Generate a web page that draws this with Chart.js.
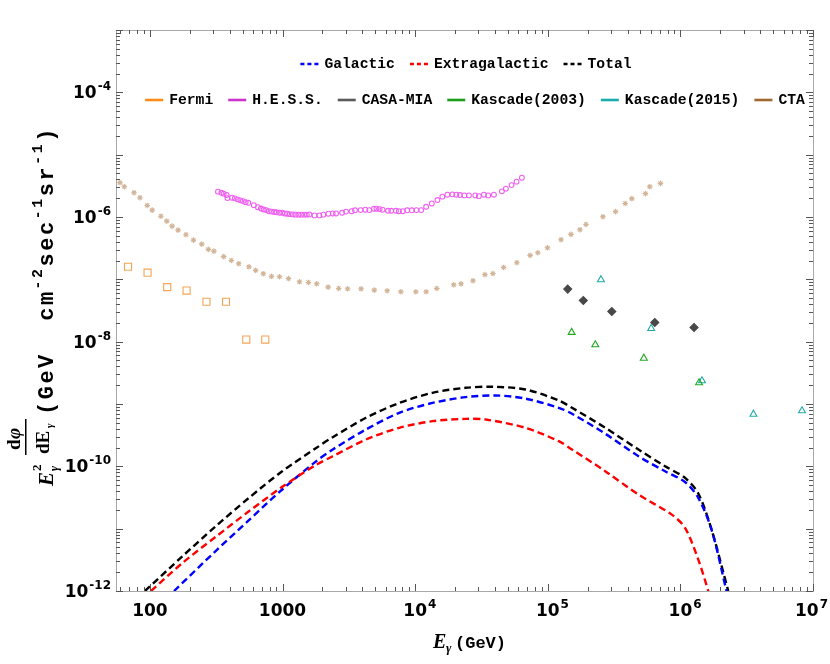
<!DOCTYPE html>
<html>
<head>
<meta charset="utf-8">
<script src="https://cdn.jsdelivr.net/npm/chart.js@4.4.1/dist/chart.umd.min.js"></script>
<style>
  html, body { margin: 0; padding: 0; background: #fff; }
  #wrap { width: 830px; height: 664px; }
</style>
</head>
<body>
<div id="wrap"><canvas id="fluxChart" width="830" height="664"></canvas></div>
<script>
// model curves (GeV, GeV cm^-2 s^-1 sr^-1)
const galacticE = [152, 313, 558, 995, 1770, 2390, 4256, 7586, 13490, 24040, 40460, 67920, 121000, 152400, 271600, 483100, 767100, 1084000, 1365000, 1718000, 2228000];
const galacticFlux = [1.0e-12, 4.37e-12, 1.37e-11, 4.25e-11, 1.18e-10, 1.86e-10, 3.90e-10, 7.23e-10, 1.04e-9, 1.29e-9, 1.37e-9, 1.22e-9, 8.69e-10, 6.97e-10, 3.33e-10, 1.45e-10, 8.34e-11, 5.60e-11, 3.12e-11, 9.68e-12, 1.0e-12];

const extraE = [102, 176, 313, 558, 995, 1770, 2390, 4256, 7586, 13490, 24040, 34040, 67920, 121000, 152400, 271600, 483100, 860700, 1084000, 1365000, 1625000];
const extraFlux = [1.0e-12, 2.82e-12, 7.38e-12, 1.90e-11, 4.69e-11, 1.04e-10, 1.45e-10, 2.69e-10, 4.15e-10, 5.30e-10, 5.78e-10, 5.64e-10, 4.15e-10, 2.53e-10, 1.86e-10, 8.34e-11, 3.52e-11, 1.68e-11, 1.03e-11, 3.19e-12, 1.0e-12];

const totalE = [91.7, 176, 313, 558, 995, 1770, 2390, 4256, 7586, 13490, 24040, 38110, 67920, 121000, 152400, 271600, 483100, 767100, 1084000, 1365000, 1718000, 2296000];
const totalFlux = [1.0e-12, 3.61e-12, 1.09e-11, 3.12e-11, 8.34e-11, 1.93e-10, 2.93e-10, 6.01e-10, 1.04e-9, 1.51e-9, 1.82e-9, 1.89e-9, 1.71e-9, 1.14e-9, 8.69e-10, 4.15e-10, 1.86e-10, 1.00e-10, 6.53e-11, 3.66e-11, 9.68e-12, 1.0e-12];

// measurements / sensitivities
const fermiE = [68.4, 96, 135, 189, 267, 375, 533, 741];
const fermiFlux = [1.59e-7, 1.28e-7, 7.5e-8, 6.6e-8, 4.37e-8, 4.37e-8, 1.08e-8, 1.08e-8];

const hessE = [326, 346, 360, 379, 384, 416, 436, 459, 481, 503, 527, 552, 608, 652, 687, 719, 754, 789, 826, 866, 901, 949, 995, 1040, 1084, 1135, 1195, 1253, 1319, 1382, 1456, 1524, 1596, 1741, 1898, 2033, 2217, 2390, 2533, 2812, 3013, 3319, 3521, 3880, 4209, 4510, 4890, 5110, 5395, 5675, 6237, 6603, 7161, 7540, 8085, 8710, 9440, 10230, 11090, 12100, 13350, 14720, 16040, 17500, 19070, 20450, 21790, 23480, 25450, 28400, 30260, 33000, 35560, 39260, 45080, 48310, 53330, 58170, 63800];
const hessFlux = [2.55e-6, 2.45e-6, 2.37e-6, 2.25e-6, 2.01e-6, 2.04e-6, 1.99e-6, 1.92e-6, 1.85e-6, 1.80e-6, 1.73e-6, 1.69e-6, 1.55e-6, 1.44e-6, 1.37e-6, 1.32e-6, 1.29e-6, 1.24e-6, 1.22e-6, 1.20e-6, 1.19e-6, 1.17e-6, 1.17e-6, 1.14e-6, 1.13e-6, 1.11e-6, 1.10e-6, 1.09e-6, 1.09e-6, 1.09e-6, 1.09e-6, 1.09e-6, 1.10e-6, 1.06e-6, 1.06e-6, 1.09e-6, 1.13e-6, 1.14e-6, 1.14e-6, 1.17e-6, 1.22e-6, 1.24e-6, 1.28e-6, 1.29e-6, 1.31e-6, 1.29e-6, 1.36e-6, 1.36e-6, 1.34e-6, 1.31e-6, 1.26e-6, 1.26e-6, 1.26e-6, 1.24e-6, 1.24e-6, 1.28e-6, 1.28e-6, 1.29e-6, 1.29e-6, 1.46e-6, 1.65e-6, 1.87e-6, 2.12e-6, 2.28e-6, 2.31e-6, 2.28e-6, 2.25e-6, 2.22e-6, 2.22e-6, 2.22e-6, 2.16e-6, 2.28e-6, 2.22e-6, 2.28e-6, 2.58e-6, 2.85e-6, 3.25e-6, 3.69e-6, 4.27e-6];

const casaE = [141300, 185400, 304100, 641200, 1268000];
const casaFlux = [6.97e-8, 4.58e-8, 3.05e-8, 2.03e-8, 1.69e-8];

const kas03E = [151400, 228300, 530300, 1383000];
const kas03Flux = [1.41e-8, 8.91e-9, 5.43e-9, 2.19e-9];

const kas15E = [251800, 602600, 1455000, 3556000, 8260000];
const kas15Flux = [9.86e-8, 1.63e-8, 2.36e-9, 6.86e-10, 7.78e-10];

const ctaE = [59.4, 64.1, 75.9, 84.1, 95.5, 104, 121, 134, 147, 163, 187, 213, 246, 276, 304, 360, 411, 467, 558, 627, 716, 826, 949, 1109, 1342, 1568, 1811, 2207, 2650, 3097, 3908, 4920, 6152, 7800, 10120, 12100, 14560, 19540, 22180, 27300, 33580, 38560, 46430, 58480, 73620, 84140, 99530, 125900, 149700, 174900, 194100, 260400, 324500, 383700, 430500, 545800, 587500, 707900];
const ctaFlux = [3.56e-6, 3.06e-6, 2.45e-6, 2.04e-6, 1.53e-6, 1.29e-6, 1.03e-6, 8.59e-7, 7.14e-7, 6.16e-7, 5.20e-7, 4.26e-7, 3.67e-7, 3.02e-7, 2.84e-7, 2.31e-7, 2.01e-7, 1.78e-7, 1.59e-7, 1.39e-7, 1.23e-7, 1.12e-7, 1.10e-7, 1.03e-7, 9.14e-8, 8.91e-8, 8.49e-8, 7.50e-8, 7.14e-8, 7.06e-8, 7.06e-8, 6.71e-8, 6.56e-8, 6.32e-8, 6.32e-8, 6.32e-8, 7.14e-8, 8.18e-8, 8.49e-8, 9.50e-8, 1.19e-7, 1.24e-7, 1.55e-7, 1.85e-7, 2.42e-7, 2.67e-7, 3.21e-7, 4.32e-7, 5.26e-7, 6.25e-7, 7.60e-7, 1.01e-6, 1.22e-6, 1.65e-6, 1.97e-6, 2.37e-6, 3.06e-6, 3.46e-6];

const xTickLabels = [['100', ''], ['1000', ''], ['10', '4'], ['10', '5'], ['10', '6'], ['10', '7']];
const xTickValues = [1e2, 1e3, 1e4, 1e5, 1e6, 1e7];
const yTickValues = [1e-12, 1e-10, 1e-8, 1e-6, 1e-4];
const yTickLabels = [['10', '-12'], ['10', '-10'], ['10', '-8'], ['10', '-6'], ['10', '-4']];

const curveLegend = ['Galactic', 'Extragalactic', 'Total'];
const curveColors = ['#0000ff', '#ff0000', '#000000'];
const dataLegend = ['Fermi', 'H.E.S.S.', 'CASA-MIA', 'Kascade(2003)', 'Kascade(2015)', 'CTA'];
const dataColors = ['#ff8c1a', '#cc33cc', '#5a5a5a', '#1a9e1a', '#1aadad', '#a0672f'];

function pts(xs, ys) {
    return xs.map((x, i) => ({ x: x, y: ys[i] }));
}

function curve(label, xs, ys, color) {
    return {
        label: label, data: pts(xs, ys), showLine: true, borderColor: color,
        borderWidth: 2.4, borderDash: [7, 4], pointRadius: 0, fill: false,
        tension: 0.3
    };
}

function marks(label, xs, ys, style, color, radius, filled) {
    return {
        label: label, data: pts(xs, ys), showLine: false, pointStyle: style,
        pointRadius: radius, pointBorderColor: color, pointBorderWidth: 1.1,
        pointBackgroundColor: filled ? color : 'rgba(0,0,0,0)'
    };
}

function drawPow(ctx, base, exp, x, y, align) {
    ctx.font = 'bold 17px "DejaVu Sans"';
    const wb = ctx.measureText(base).width;
    ctx.font = 'bold 12px "DejaVu Sans"';
    const we = exp ? ctx.measureText(exp).width + 1 : 0;
    let x0 = align === 'right' ? x - wb - we : x - wb / 2;
    // keep the last label inside the canvas
    if (x0 + wb + we > 828) x0 = 828 - wb - we;
    ctx.textAlign = 'left';
    ctx.textBaseline = 'alphabetic';
    ctx.font = 'bold 17px "DejaVu Sans"';
    ctx.fillText(base, x0, y);
    if (exp) {
        ctx.font = 'bold 12px "DejaVu Sans"';
        ctx.fillText(exp, x0 + wb + 1, y - 8);
    }
}

const framePlugin = {
    id: 'frame',
    afterDraw(chart) {
        const ctx = chart.ctx;
        const a = chart.chartArea;
        const xs = chart.scales.x, ys = chart.scales.y;
        ctx.save();
        ctx.strokeStyle = '#a8a8a8';
        ctx.lineWidth = 1;
        ctx.strokeRect(a.left + 0.5, a.top + 0.5, a.right - a.left, a.bottom - a.top);

        ctx.strokeStyle = '#555';
        ctx.beginPath();
        for (let e = 1; e <= 7; e++) {
            for (let m = 1; m <= 9; m++) {
                const v = m * Math.pow(10, e);
                if (v < xs.min || v > xs.max) continue;
                const px = Math.round(xs.getPixelForValue(v)) + 0.5;
                const len = m === 1 ? 7 : 4;
                ctx.moveTo(px, a.bottom); ctx.lineTo(px, a.bottom - len);
                ctx.moveTo(px, a.top); ctx.lineTo(px, a.top + len);
            }
        }
        for (let e = -12; e <= -3; e++) {
            for (let m = 1; m <= 9; m++) {
                const v = m * Math.pow(10, e);
                if (v < ys.min * 0.999 || v > ys.max * 1.001) continue;
                const py = Math.round(ys.getPixelForValue(v)) + 0.5;
                const len = m === 1 ? 7 : 4;
                ctx.moveTo(a.left, py); ctx.lineTo(a.left + len, py);
                ctx.moveTo(a.right, py); ctx.lineTo(a.right - len, py);
            }
        }
        ctx.stroke();

        ctx.fillStyle = '#000';
        xTickValues.forEach((v, i) => {
            drawPow(ctx, xTickLabels[i][0], xTickLabels[i][1], xs.getPixelForValue(v), a.bottom + 25, 'center');
        });
        yTickValues.forEach((v, i) => {
            drawPow(ctx, yTickLabels[i][0], yTickLabels[i][1], a.left - 5, ys.getPixelForValue(v) + 6, 'right');
        });

        // x title
        ctx.textAlign = 'left';
        ctx.font = 'bold italic 20px "Liberation Serif"';
        ctx.fillText('E', 433, 648);
        ctx.font = 'bold italic 13px "Liberation Serif"';
        ctx.fillText('\u03b3', 446, 652);
        ctx.font = 'bold 17px "Liberation Mono"';
        ctx.fillText('(GeV)', 455, 648);

        // y title, rotated
        ctx.translate(53, 486);
        ctx.rotate(-Math.PI / 2);
        ctx.font = 'bold italic 21px "Liberation Serif"';
        ctx.fillText('E', 0, 0);
        ctx.font = 'bold 13px "Liberation Serif"';
        ctx.fillText('2', 15, -12);
        ctx.font = 'bold italic 12px "Liberation Serif"';
        ctx.fillText('\u03b3', 15, 5);
        // fraction
        ctx.fillRect(31, -28, 36, 1.5);
        ctx.font = 'bold 19px "Liberation Serif"';
        ctx.fillText('d', 36, -33);
        ctx.font = 'bold italic 19px "Liberation Serif"';
        ctx.fillText('\u03c6', 47, -33);
        ctx.font = 'bold 19px "Liberation Serif"';
        ctx.fillText('dE', 32, -4);
        ctx.font = 'bold italic 11px "Liberation Serif"';
        ctx.fillText('\u03b3', 58, 0);
        // units
        const parts = [['(GeV  cm', 0], ['-2', 1], ['sec', 0], ['-1', 1], ['sr', 0], ['-1', 1], [')', 0]];
        let u = 71;
        ctx.letterSpacing = '2.5px';
        parts.forEach(p => {
            ctx.font = p[1] ? 'bold 15px "Liberation Mono"' : 'bold 22px "Liberation Mono"';
            ctx.fillText(p[0], u, p[1] ? -11 : 0);
            u += ctx.measureText(p[0]).width;
        });
        ctx.restore();
    }
};

const legendPlugin = {
    id: 'insideLegend',
    afterDraw(chart) {
        const ctx = chart.ctx;
        ctx.save();
        ctx.font = 'bold 14.7px "Liberation Mono"';
        ctx.textBaseline = 'middle';
        ctx.textAlign = 'left';
        function row(labels, colors, cx, y, dashed) {
            const widths = labels.map(l => 18 + 6 + ctx.measureText(l).width);
            const total = widths.reduce((s, w) => s + w, 0) + 15 * (labels.length - 1);
            let x = cx - total / 2;
            labels.forEach((l, i) => {
                ctx.strokeStyle = colors[i];
                ctx.lineWidth = 2.6;
                ctx.setLineDash(dashed ? [4, 3] : []);
                ctx.beginPath();
                ctx.moveTo(x, y); ctx.lineTo(x + 18, y);
                ctx.stroke();
                ctx.fillStyle = '#000';
                ctx.fillText(l, x + 24, y);
                x += widths[i] + 15;
            });
        }
        row(curveLegend, curveColors, 466, 64, true);
        row(dataLegend, dataColors, 475, 100, false);
        ctx.restore();
    }
};

const ctx = document.getElementById('fluxChart').getContext('2d');

const fluxChart = new Chart(ctx, {
    type: 'scatter',
    data: {
        datasets: [
            marks('CTA', ctaE, ctaFlux, 'star', '#d2b599', 2.8, false),
            marks('Fermi', fermiE, fermiFlux, 'rect', '#f5a455', 5, false),
            marks('H.E.S.S.', hessE, hessFlux, 'circle', '#f060f0', 2.4, false),
            marks('CASA-MIA', casaE, casaFlux, 'rectRot', '#484848', 4, true),
            marks('Kascade(2003)', kas03E, kas03Flux, 'triangle', '#22aa22', 4, false),
            marks('Kascade(2015)', kas15E, kas15Flux, 'triangle', '#22aaaa', 4, false),
            curve('Extragalactic', extraE, extraFlux, '#ff0000'),
            curve('Galactic', galacticE, galacticFlux, '#0000ff'),
            curve('Total', totalE, totalFlux, '#000000')
        ]
    },
    options: {
        responsive: false,
        animation: false,
        layout: { padding: { top: 30, right: 17, left: 0, bottom: 0 } },
        plugins: { legend: { display: false }, tooltip: { enabled: false } },
        scales: {
            x: {
                type: 'logarithmic', min: 55.5, max: 1e7,
                grid: { display: false }, border: { display: false },
                ticks: { display: false },
                afterFit(scale) { scale.height = 73; }
            },
            y: {
                type: 'logarithmic', min: 1e-12, max: 1e-3,
                grid: { display: false }, border: { display: false },
                ticks: { display: false },
                afterFit(scale) { scale.width = 116; }
            }
        }
    },
    plugins: [framePlugin, legendPlugin]
});
</script>
</body>
</html>
